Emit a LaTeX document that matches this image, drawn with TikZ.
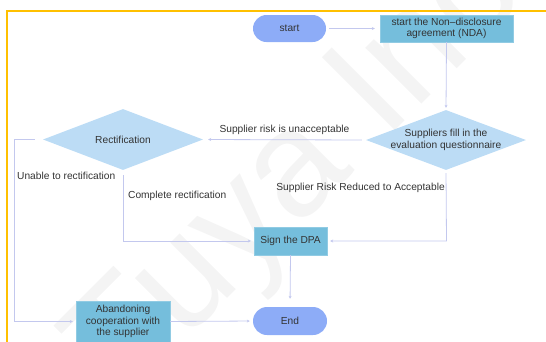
\documentclass[tikz,border=0pt]{standalone}
\usepackage{fontspec}
\setmainfont{Liberation Sans}
\usetikzlibrary{shapes.geometric,arrows.meta}
\definecolor{pillblue}{HTML}{8DACF7}
\definecolor{boxblue}{HTML}{75BEDC}
\definecolor{diablue}{HTML}{BCDCF5}
\definecolor{frameyellow}{HTML}{FFC000}
\definecolor{linkcol}{HTML}{C3C8EE}
\definecolor{txt}{HTML}{333333}
\definecolor{wmark}{HTML}{F4F4F4}
\tikzset{
  base/.style={font=\fontsize{10.2}{11.7}\selectfont, text=txt, align=center, inner sep=0pt},
  pill/.style={base, fill=pillblue, rounded corners=13.5pt, minimum width=73pt, minimum height=27pt},
  procbox/.style={base, fill=boxblue, draw=boxblue!80!white, line width=0.4pt},
  decision/.style={base, diamond, fill=diablue, minimum width=160pt, minimum height=60pt},
  link/.style={draw=linkcol, line width=0.8pt, -{Stealth[length=3pt,width=3pt]}},
  linklabel/.style={font=\fontsize{10.2}{11.7}\selectfont, text=txt, inner sep=0pt},
}
\begin{document}
\begin{tikzpicture}[x=1pt,y=-1pt]
  \useasboundingbox (0,0) rectangle (546,341);
  % faint background watermark
  \node[rotate=45, text=wmark, font=\fontsize{150}{150}\selectfont] (wm) at (300,175) {Tuya Inc};
  % frame
  \draw[frameyellow, line width=2pt] (7,345) -- (7,11) -- (550,11);

  % nodes
  \node[pill] (start) at (289.5,28.5) {start};
  \node[procbox, minimum width=133pt, minimum height=27pt] (nda) at (446.5,28.5)
    {start the Non--disclosure\\agreement (NDA)};
  \node[decision, label={[base]center:Suppliers fill in the\\evaluation questionnaire}] (supp) at (446,140) {};
  \node[decision, minimum height=61pt, label={[base]center:Rectification}] (rect) at (123,139.5) {};
  \node[procbox, minimum width=73pt, minimum height=28pt] (dpa) at (290.5,241) {Sign the DPA};
  \node[pill, minimum width=74pt, minimum height=28pt, rounded corners=14pt] (end) at (290,321) {End};
  \node[procbox, minimum width=94pt, minimum height=41pt] (aband) at (123,321.5)
    {Abandoning\\cooperation with\\the supplier};

  % corner points of the orthogonal routes
  \coordinate (lc) at (14,139.5);
  \coordinate (lb) at (14,321.5);
  \coordinate (rb) at (123,241);
  \coordinate (sb) at (446.5,241);

  % connectors
  \draw[link, shorten <=3pt, shorten >=5pt] (start.east) -- (nda.west);
  \draw[link, shorten >=2pt] (nda.south) -- (supp.north);
  \draw[link, shorten <=4pt, shorten >=5pt] (supp.west) -- (rect.east)
    node[linklabel, midway, above=5pt] {Supplier risk is unacceptable};
  \draw[link, shorten <=8pt, shorten >=3pt] (rect.west) -- (lc) -- (lb) -- (aband.west);
  \draw[link, shorten <=5pt, shorten >=3pt] (rect.south) -- (rb) -- (dpa.west);
  \draw[link, shorten <=3pt, shorten >=3pt] (supp.south) -- (sb) -- (dpa.east);
  \draw[link, shorten >=8pt] (dpa.south) -- (end.north);
  \draw[link, shorten >=3pt] (aband.east) -- (end.west);

  % branch labels
  \node[linklabel, anchor=west] (lblunable) at (17,176) {Unable to rectification};
  \node[linklabel, anchor=west] (lblcomplete) at (128,196) {Complete rectification};
  \node[linklabel, anchor=east] (lblreduced) at (445,188) {Supplier Risk Reduced to Acceptable};
\end{tikzpicture}
\end{document}
